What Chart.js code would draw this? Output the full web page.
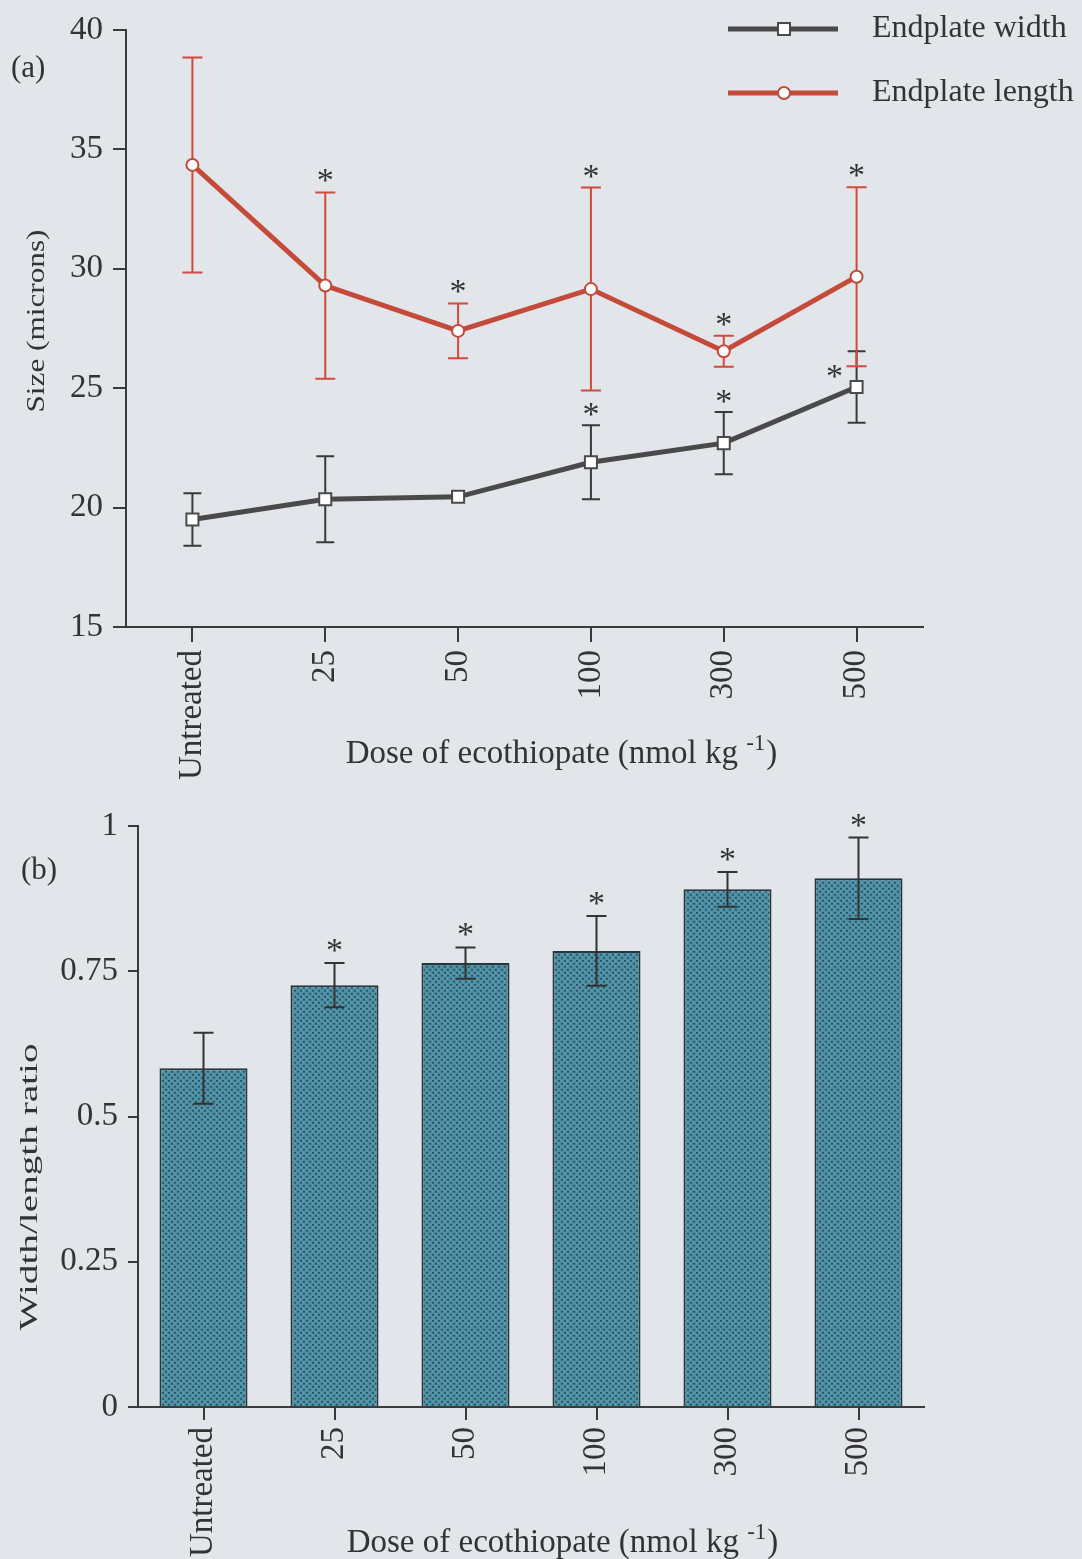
<!DOCTYPE html>
<html>
<head>
<meta charset="utf-8">
<script src="https://cdn.jsdelivr.net/npm/chart.js@4.4.1/dist/chart.umd.min.js"></script>
<style>
  html, body { margin: 0; padding: 0; background: #e2e5e9; }
  #wrap { position: relative; width: 1082px; height: 1559px; overflow: hidden; }
  #wrap canvas { position: absolute; left: 0; }
  #sizeChart { top: 0; }
  #ratioChart { top: 780px; }
</style>
</head>
<body>
<div id="wrap">
  <canvas id="sizeChart" width="1082" height="780"></canvas>
  <canvas id="ratioChart" width="1082" height="779"></canvas>
</div>
<script>
// ---- data ----
const doses = ['Untreated', '25', '50', '100', '300', '500'];

// (a) endplate dimensions, microns (mean and error)
const widthMean  = [19.5, 20.35, 20.45, 21.9, 22.7, 25.05];
const widthErr   = [1.1, 1.8, null, 1.55, 1.3, 1.5];
const widthSig   = [false, false, false, true, true, true];
const lengthMean = [34.35, 29.3, 27.4, 29.15, 26.55, 29.67];
const lengthErr  = [4.5, 3.9, 1.15, 4.25, 0.65, 3.75];
const lengthSig  = [false, true, true, true, true, true];
const sizeTicks  = [15, 20, 25, 30, 35, 40];

// (b) width/length ratio
const ratioMean  = [0.583, 0.726, 0.764, 0.785, 0.891, 0.910];
const ratioErr   = [0.061, 0.038, 0.027, 0.060, 0.030, 0.070];
const ratioSig   = [false, true, true, true, true, true];
const ratioTicks = [0, 0.25, 0.5, 0.75, 1];

// ---- styling ----
const SERIF = '"Liberation Serif", "Times New Roman", Times, serif';
const INK = '#333333';
const AXIS = '#3a3a3a';
const RED = '#c44a3a';
const RED_ERR = '#d04b3d';
const DARK = '#4a4a4a';
const TICK_SIZE = 33;

function errorBar(ctx, x, yHi, yLo, cap, color, lw) {
  ctx.save();
  ctx.strokeStyle = color;
  ctx.lineWidth = lw;
  ctx.beginPath();
  ctx.moveTo(x, yHi); ctx.lineTo(x, yLo);
  ctx.moveTo(x - cap / 2, yHi); ctx.lineTo(x + cap / 2, yHi);
  ctx.moveTo(x - cap / 2, yLo); ctx.lineTo(x + cap / 2, yLo);
  ctx.stroke();
  ctx.restore();
}

function star(ctx, x, cy) {
  ctx.save();
  ctx.font = '34px ' + SERIF;
  ctx.fillStyle = INK;
  ctx.textAlign = 'center';
  ctx.textBaseline = 'alphabetic';
  ctx.fillText('*', x, cy + 16);
  ctx.restore();
}

// vertical axis title stretched to a given length
function verticalTitle(ctx, text, cx, cy, size, len) {
  ctx.save();
  ctx.translate(cx, cy);
  ctx.rotate(-Math.PI / 2);
  ctx.font = size + 'px ' + SERIF;
  const w = ctx.measureText(text).width;
  ctx.scale(len / w, 1);
  ctx.fillStyle = INK;
  ctx.textAlign = 'center';
  ctx.textBaseline = 'middle';
  ctx.fillText(text, 0, 0);
  ctx.restore();
}

// "Dose of ecothiopate (nmol kg -1)" with raised exponent
function doseTitle(ctx, cx, baseY) {
  const main = 'Dose of ecothiopate (nmol kg ';
  const sup = '-1';
  const close = ')';
  ctx.save();
  ctx.fillStyle = INK;
  ctx.textBaseline = 'alphabetic';
  ctx.textAlign = 'left';
  ctx.font = '33px ' + SERIF;
  const w1 = ctx.measureText(main).width;
  const w3 = ctx.measureText(close).width;
  ctx.font = '23px ' + SERIF;
  const w2 = ctx.measureText(sup).width;
  let x = cx - (w1 + w2 + w3) / 2;
  ctx.font = '33px ' + SERIF;
  ctx.fillText(main, x, baseY);
  x += w1;
  ctx.font = '23px ' + SERIF;
  ctx.fillText(sup, x, baseY - 13);
  x += w2 + 1;
  ctx.font = '33px ' + SERIF;
  ctx.fillText(close, x, baseY);
  ctx.restore();
}

function panelLabel(ctx, text, x, cy) {
  ctx.save();
  ctx.font = '31px ' + SERIF;
  ctx.fillStyle = INK;
  ctx.textAlign = 'left';
  ctx.textBaseline = 'middle';
  ctx.fillText(text, x, cy);
  ctx.restore();
}

// ---- (a) size chart ----
const sizeSeries = [
  { mean: widthMean, err: widthErr, sig: widthSig, color: DARK, errColor: '#3a3a3a', cap: 18 },
  { mean: lengthMean, err: lengthErr, sig: lengthSig, color: RED, errColor: RED_ERR, cap: 20 }
];

const sizeExtras = {
  id: 'sizeExtras',
  beforeDatasetsDraw(chart) {
    const ctx = chart.ctx, xs = chart.scales.x, ys = chart.scales.y;
    sizeSeries.forEach(s => {
      s.mean.forEach((m, i) => {
        if (s.err[i] == null) return;
        const x = xs.getPixelForValue(i);
        errorBar(ctx, x, ys.getPixelForValue(m + s.err[i]), ys.getPixelForValue(m - s.err[i]), s.cap, s.errColor, 2);
      });
    });
  },
  afterDatasetsDraw(chart) {
    const ctx = chart.ctx, xs = chart.scales.x, ys = chart.scales.y;
    const [w, l] = sizeSeries;
    // length stars sit above the upper error cap
    l.mean.forEach((m, i) => {
      if (!l.sig[i]) return;
      star(ctx, xs.getPixelForValue(i), ys.getPixelForValue(m + l.err[i]) - 17);
    });
    // width stars: above the cap, or beside the marker when the length bar is in the way
    w.mean.forEach((m, i) => {
      if (!w.sig[i]) return;
      const x = xs.getPixelForValue(i);
      const e = w.err[i] || 0;
      const sy = ys.getPixelForValue(m + e) - 16;
      const lenLow = ys.getPixelForValue(l.mean[i] - l.err[i]);
      if (lenLow > sy - 10) {
        star(ctx, x - 22, ys.getPixelForValue(m) - 16);
      } else {
        star(ctx, x, sy);
      }
    });
  },
  afterDraw(chart) {
    const ctx = chart.ctx;
    panelLabel(ctx, '(a)', 11, 69);
    verticalTitle(ctx, 'Size (microns)', 37, 321, 26, 183);
    doseTitle(ctx, 561, 763);

    // legend
    const items = [
      { label: 'Endplate width', color: DARK, y: 29, shape: 'rect' },
      { label: 'Endplate length', color: RED, y: 93, shape: 'circle' }
    ];
    items.forEach(it => {
      ctx.save();
      ctx.strokeStyle = it.color;
      ctx.lineWidth = 5;
      ctx.beginPath();
      ctx.moveTo(728, it.y); ctx.lineTo(838, it.y);
      ctx.stroke();
      ctx.fillStyle = '#ffffff';
      ctx.lineWidth = 2;
      ctx.beginPath();
      if (it.shape === 'rect') ctx.rect(778, it.y - 6, 12, 12);
      else ctx.arc(784, it.y, 6, 0, Math.PI * 2);
      ctx.fill();
      ctx.stroke();
      ctx.font = '32px ' + SERIF;
      ctx.fillStyle = INK;
      ctx.textAlign = 'left';
      ctx.textBaseline = 'middle';
      ctx.fillText(it.label, 872, it.y);
      ctx.restore();
    });
  }
};

new Chart(document.getElementById('sizeChart'), {
  type: 'line',
  data: {
    labels: doses,
    datasets: [
      {
        label: 'Endplate width',
        data: widthMean,
        borderColor: DARK,
        borderWidth: 5,
        pointStyle: 'rect',
        pointRadius: 8.5,
        pointBorderWidth: 2,
        pointBorderColor: DARK,
        pointBackgroundColor: '#ffffff',
        tension: 0
      },
      {
        label: 'Endplate length',
        data: lengthMean,
        borderColor: RED,
        borderWidth: 5,
        pointStyle: 'circle',
        pointRadius: 6,
        pointBorderWidth: 2,
        pointBorderColor: RED,
        pointBackgroundColor: '#ffffff',
        tension: 0
      }
    ]
  },
  options: {
    responsive: false,
    animation: false,
    devicePixelRatio: 1,
    layout: { padding: { left: 0, right: 159, top: 30, bottom: 0 } },
    plugins: { legend: { display: false }, tooltip: { enabled: false } },
    scales: {
      x: {
        type: 'category',
        offset: true,
        afterFit(scale) { scale.height = 153; },
        grid: { display: true, offset: false, drawOnChartArea: false, drawTicks: true, tickLength: 15, color: AXIS, lineWidth: 2 },
        border: { display: true, color: AXIS, width: 2 },
        ticks: { autoSkip: false, minRotation: 90, maxRotation: 90, padding: 8, color: INK, font: { family: SERIF, size: TICK_SIZE } }
      },
      y: {
        min: sizeTicks[0],
        max: sizeTicks[sizeTicks.length - 1],
        afterFit(scale) { scale.width = 126; },
        afterBuildTicks(scale) { scale.ticks = sizeTicks.map(v => ({ value: v })); },
        grid: { display: true, drawOnChartArea: false, drawTicks: true, tickLength: 13, color: AXIS, lineWidth: 2 },
        border: { display: true, color: AXIS, width: 2 },
        ticks: { padding: 10, color: INK, font: { family: SERIF, size: TICK_SIZE }, callback: v => String(v) }
      }
    }
  },
  plugins: [sizeExtras]
});

// ---- (b) ratio chart ----
function barPattern() {
  const c = document.createElement('canvas');
  c.width = 6; c.height = 6;
  const g = c.getContext('2d');
  g.fillStyle = '#4e8ea3';
  g.fillRect(0, 0, 6, 6);
  g.fillStyle = '#23505f';
  g.fillRect(0, 0, 2, 1.5);
  g.fillRect(3, 3, 2, 1.5);
  g.fillStyle = '#72aabb';
  g.fillRect(3, 0, 1, 1);
  g.fillRect(0, 3, 1, 1);
  return g.createPattern(c, 'repeat');
}

const ratioExtras = {
  id: 'ratioExtras',
  afterDatasetsDraw(chart) {
    const ctx = chart.ctx, xs = chart.scales.x, ys = chart.scales.y;
    ratioMean.forEach((m, i) => {
      const x = xs.getPixelForValue(i);
      const hi = ys.getPixelForValue(m + ratioErr[i]);
      errorBar(ctx, x, hi, ys.getPixelForValue(m - ratioErr[i]), 20, '#333333', 2);
      if (ratioSig[i]) star(ctx, x, hi - 18);
    });
  },
  afterDraw(chart) {
    const ctx = chart.ctx;
    panelLabel(ctx, '(b)', 21, 91);
    verticalTitle(ctx, 'Width/length ratio', 30, 407, 26, 287);
    doseTitle(ctx, 562, 772);
  }
};

new Chart(document.getElementById('ratioChart'), {
  type: 'bar',
  data: {
    labels: doses,
    datasets: [{
      label: 'Width/length ratio',
      data: ratioMean,
      backgroundColor: barPattern(),
      borderColor: '#26363d',
      borderWidth: 2,
      borderSkipped: 'bottom',
      categoryPercentage: 1,
      barPercentage: 0.672
    }]
  },
  options: {
    responsive: false,
    animation: false,
    devicePixelRatio: 1,
    layout: { padding: { left: 0, right: 158, top: 46, bottom: 0 } },
    plugins: { legend: { display: false }, tooltip: { enabled: false } },
    scales: {
      x: {
        type: 'category',
        offset: true,
        afterFit(scale) { scale.height = 152; },
        grid: { display: true, offset: false, drawOnChartArea: false, drawTicks: true, tickLength: 13, color: AXIS, lineWidth: 2 },
        border: { display: true, color: AXIS, width: 2 },
        ticks: { autoSkip: false, minRotation: 90, maxRotation: 90, padding: 7, color: INK, font: { family: SERIF, size: TICK_SIZE } }
      },
      y: {
        min: ratioTicks[0],
        max: ratioTicks[ratioTicks.length - 1],
        afterFit(scale) { scale.width = 138; },
        afterBuildTicks(scale) { scale.ticks = ratioTicks.map(v => ({ value: v })); },
        grid: { display: true, drawOnChartArea: false, drawTicks: true, tickLength: 10, color: AXIS, lineWidth: 2 },
        border: { display: true, color: AXIS, width: 2 },
        ticks: { padding: 10, color: INK, font: { family: SERIF, size: TICK_SIZE }, callback: v => String(v) }
      }
    }
  },
  plugins: [ratioExtras]
});
</script>
</body>
</html>
